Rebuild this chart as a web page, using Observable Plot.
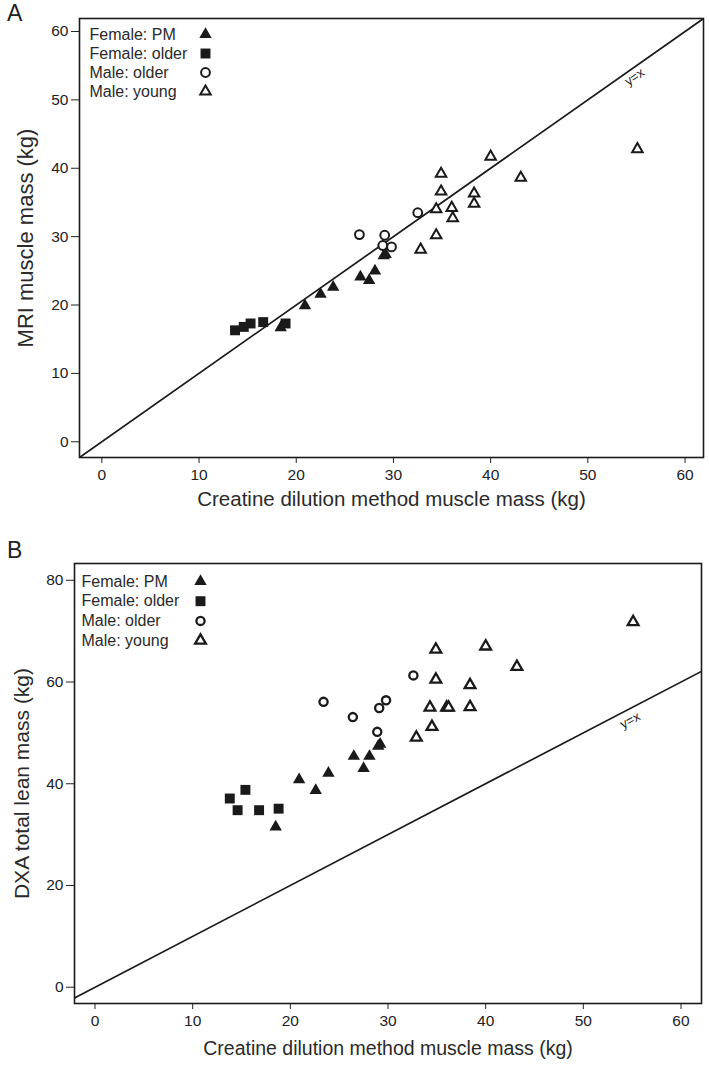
<!DOCTYPE html>
<html>
<head>
<meta charset="utf-8">
<script src="https://cdn.jsdelivr.net/npm/d3@7"></script>
<script src="https://cdn.jsdelivr.net/npm/@observablehq/plot@0.6"></script>
<style>
  html, body { margin: 0; padding: 0; background: #fff; }
  .panel { position: relative; width: 709px; }
  .tag { position: absolute; font-family: "Liberation Sans", Arial, sans-serif; font-size: 23px; color: #222; }
</style>
</head>
<body>
<div class="panel" id="panelA"><div class="tag" style="left:7px;top:0px;">A</div></div>
<div class="panel" id="panelB"><div class="tag" style="left:7px;top:1px;">B</div></div>
<script>
// ---- legend / categories ----
const groups = ["Female: PM", "Female: older", "Male: older", "Male: young"];

// ---- Panel A: MRI muscle mass vs creatine dilution ----
const aPMx = [18.4, 20.9, 22.5, 23.8, 26.6, 27.5, 28.1, 29.0, 29.2];
const aPMy = [16.7, 19.9, 21.6, 22.6, 24.1, 23.6, 25.0, 27.2, 27.4];
const aFOx = [13.7, 14.6, 15.3, 16.6, 18.9];
const aFOy = [16.3, 16.8, 17.3, 17.5, 17.3];
const aMOx = [26.5, 29.1, 32.5, 28.9, 29.8];
const aMOy = [30.3, 30.2, 33.5, 28.7, 28.5];
const aMYx = [34.9, 34.9, 34.4, 36.0, 36.1, 38.3, 38.3, 34.4, 32.8, 40.0, 43.1, 55.1];
const aMYy = [39.2, 36.6, 34.0, 34.2, 32.7, 36.3, 34.8, 30.2, 28.1, 41.7, 38.6, 42.8];

// ---- Panel B: DXA total lean mass vs creatine dilution ----
const bPMx = [18.5, 20.9, 22.6, 23.9, 26.5, 27.5, 28.1, 29.0, 29.2];
const bPMy = [31.5, 40.8, 38.7, 42.1, 45.4, 43.0, 45.4, 47.4, 47.8];
const bFOx = [13.8, 15.4, 14.6, 16.8, 18.8];
const bFOy = [37.1, 38.8, 34.8, 34.8, 35.1];
const bMOx = [23.4, 26.4, 29.1, 29.8, 28.9, 32.6];
const bMOy = [56.1, 53.1, 54.9, 56.4, 50.2, 61.3];
const bMYx = [34.9, 34.9, 38.4, 34.3, 36.0, 36.2, 38.4, 34.5, 32.9, 40.0, 43.2, 55.1];
const bMYy = [66.4, 60.5, 59.4, 55.0, 55.0, 55.0, 55.1, 51.2, 49.1, 67.0, 63.0, 71.8];

// ---- axes ----
const xTicks = [0, 10, 20, 30, 40, 50, 60];
const aYTicks = [0, 10, 20, 30, 40, 50, 60];
const bYTicks = [0, 20, 40, 60, 80];
const xTitle = "Creatine dilution method muscle mass (kg)";
const aYTitle = "MRI muscle mass (kg)";
const bYTitle = "DXA total lean mass (kg)";
const identityText = "y=x";
const identityLabelX = [54.8];

const font = "'Liberation Sans', Arial, Helvetica, sans-serif";
const ink = "#1a1a1a";

function pts(xs, ys) { return xs.map((x, i) => ({x, y: ys[i]})); }

function panel(cfg) {
  const sets = [
    {data: pts(cfg.pm[0], cfg.pm[1]), symbol: "triangle", fill: ink, stroke: "none", r: 4.6, sw: 0},
    {data: pts(cfg.fo[0], cfg.fo[1]), symbol: "square", fill: ink, stroke: "none", r: 5.6, sw: 0},
    {data: pts(cfg.mo[0], cfg.mo[1]), symbol: "circle", fill: "white", stroke: ink, r: cfg.circR, sw: cfg.openSW},
    {data: pts(cfg.my[0], cfg.my[1]), symbol: "triangle", fill: "white", stroke: ink, r: cfg.triR, sw: cfg.openSW}
  ];
  const marks = [];
  // identity line y = x across the frame
  const lineData = [cfg.xDomain[0], cfg.xDomain[1]];
  marks.push(Plot.line(lineData, {x: d => d, y: d => d, stroke: ink, strokeWidth: 1.7, clip: true}));
  marks.push(Plot.text(identityLabelX, {x: d => d, y: d => d, text: () => identityText, rotate: cfg.labelRotate,
    dy: cfg.labelDy, fontSize: 13, fill: "#222", fontFamily: font}));
  for (const s of sets) {
    marks.push(Plot.dot(s.data, {x: "x", y: "y", symbol: s.symbol, r: s.r, fill: s.fill, stroke: s.stroke, strokeWidth: s.sw}));
  }
  // legend inside frame, top-left
  groups.forEach((g, i) => {
    marks.push(Plot.text([g], {text: d => d, frameAnchor: "top-left", dx: cfg.legDx, dy: cfg.legDy + i * cfg.legStep,
      textAnchor: "start", lineAnchor: "middle", fontSize: 16, fill: "#2a2a2a", fontFamily: font}));
    const s = sets[i];
    marks.push(Plot.dot([g], {frameAnchor: "top-left", dx: cfg.legSymDx, dy: cfg.legDy + i * cfg.legStep,
      symbol: s.symbol, r: s.r, fill: s.fill, stroke: s.stroke, strokeWidth: s.sw}));
  });
  marks.push(Plot.frame({stroke: ink, strokeWidth: 1.6}));
  // axis titles
  marks.push(Plot.text([xTitle], {text: d => d, frameAnchor: "bottom", textAnchor: "middle", dy: cfg.xTitleDy,
    fontSize: cfg.xTitleSize, fill: "#2a2a2a", fontFamily: font, lineAnchor: "middle"}));
  marks.push(Plot.text([cfg.yTitle], {text: d => d, frameAnchor: "left", textAnchor: "middle", dx: cfg.yTitleDx,
    rotate: -90, fontSize: cfg.yTitleSize, fill: "#2a2a2a", fontFamily: font, lineAnchor: "middle"}));

  return Plot.plot({
    width: 709,
    height: cfg.height,
    marginLeft: cfg.ml, marginRight: cfg.mr, marginTop: cfg.mt, marginBottom: cfg.mb,
    style: {fontFamily: font, fontSize: "15.5px", color: "#222", background: "white", overflow: "visible"},
    x: {domain: cfg.xDomain, ticks: xTicks, tickSize: 6, tickPadding: 5, label: null, tickFormat: d => d},
    y: {domain: cfg.yDomain, ticks: cfg.yTicks, tickSize: 8, tickPadding: 3, label: null, tickFormat: d => d},
    marks
  });
}

const A = panel({
  pm: [aPMx, aPMy], fo: [aFOx, aFOy], mo: [aMOx, aMOy], my: [aMYx, aMYy],
  height: 536, ml: 79, mr: 6, mt: 18, mb: 79,
  xDomain: [-2.3, 61.9], yDomain: [-2.3, 61.9], yTicks: aYTicks,
  circR: 4.4, triR: 3.9, openSW: 2,
  labelRotate: -35, labelDy: 10,
  legDx: 10, legDy: 16, legStep: 19, legSymDx: 126,
  xTitleDy: 42, xTitleSize: 20.5, yTitle: aYTitle, yTitleDx: -54, yTitleSize: 22
});
const B = panel({
  pm: [bPMx, bPMy], fo: [bFOx, bFOy], mo: [bMOx, bMOy], my: [bMYx, bMYy],
  height: 537, ml: 74, mr: 8, mt: 27, mb: 70,
  xDomain: [-2.1, 62.1], yDomain: [-3.2, 83.3], yTicks: bYTicks,
  circR: 4.1, triR: 4.0, openSW: 2.3,
  labelRotate: -28, labelDy: 12,
  legDx: 7, legDy: 18, legStep: 19.7, legSymDx: 126,
  xTitleDy: 45, xTitleSize: 19.5, yTitle: bYTitle, yTitleDx: -52, yTitleSize: 21
});
document.getElementById("panelA").appendChild(A);
document.getElementById("panelB").appendChild(B);
</script>
</body>
</html>
